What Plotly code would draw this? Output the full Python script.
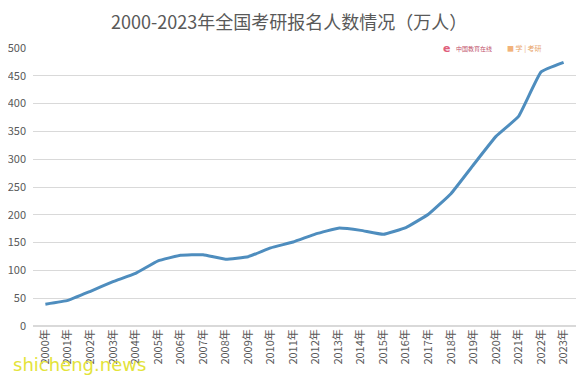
import plotly.graph_objects as go

years = [f"{y}年" for y in range(2000, 2024)]
applicants = [39.2, 46, 62.4, 79.7, 94.5, 117.2, 127.1, 128.2, 120, 124.6, 140.6, 151.1,
              165.6, 176, 172, 164.9, 177, 201, 238, 290, 341, 377, 457, 474]
y_ticks = list(range(0, 501, 50))

fig = go.Figure()
fig.add_trace(go.Scatter(x=years, y=applicants, mode="lines",
                         line=dict(color="#4E8DBE", width=3, shape="spline", smoothing=0.3),
                         hoverinfo="x+y"))

font = "Noto Sans CJK SC, Noto Sans, sans-serif"
fig.update_layout(
    width=587, height=380,
    margin=dict(l=25, r=19, t=40, b=62),
    paper_bgcolor="white", plot_bgcolor="white",
    showlegend=False,
    title=dict(text="2000-2023年全国考研报名人数情况（万人）", x=0.479, xanchor="center",
               y=0.962, yanchor="middle",
               font=dict(family=font, size=18, color="#595959")),
    font=dict(family=font, color="#595959"),
    xaxis=dict(type="category", range=[-0.55, 23.55], tickangle=-90, automargin=False,
               tickfont=dict(size=11, color="#595959", family=font),
               showgrid=False, showline=False, ticks="", zeroline=False),
    yaxis=dict(range=[0, 500], tickvals=y_ticks, gridcolor="#D9D9D9", gridwidth=1,
               automargin=False,
               tickfont=dict(size=11, color="#595959", family=font),
               showline=False, zeroline=True, zerolinecolor="#D9D9D9", ticks="",
               ticklabelstandoff=6),
)

fig.add_annotation(text="<b>e</b>", x=0.752, y=1.0, xref="paper", yref="paper",
                   showarrow=False, font=dict(size=11, color="#E0607A", family="DejaVu Sans"),
                   xanchor="left", yanchor="middle", bgcolor="white")
fig.add_annotation(text="中国教育在线", x=0.775, y=1.0, xref="paper", yref="paper",
                   showarrow=False, font=dict(size=6, color="#C0506A", family=font),
                   xanchor="left", yanchor="middle", bgcolor="white")
fig.add_annotation(text="<span style='color:#F2B27A'>■</span> 学 | 考研", x=0.87, y=1.0,
                   xref="paper", yref="paper",
                   showarrow=False, font=dict(size=7, color="#E8A46A", family=font),
                   xanchor="left", yanchor="middle", bgcolor="white")
fig.add_annotation(text="shicheng.news", x=-0.04, y=-0.14, xref="paper", yref="paper",
                   showarrow=False, font=dict(size=18, color="#E3E33A", family="DejaVu Sans"),
                   xanchor="left", yanchor="middle")

fig.write_html("out.html")
